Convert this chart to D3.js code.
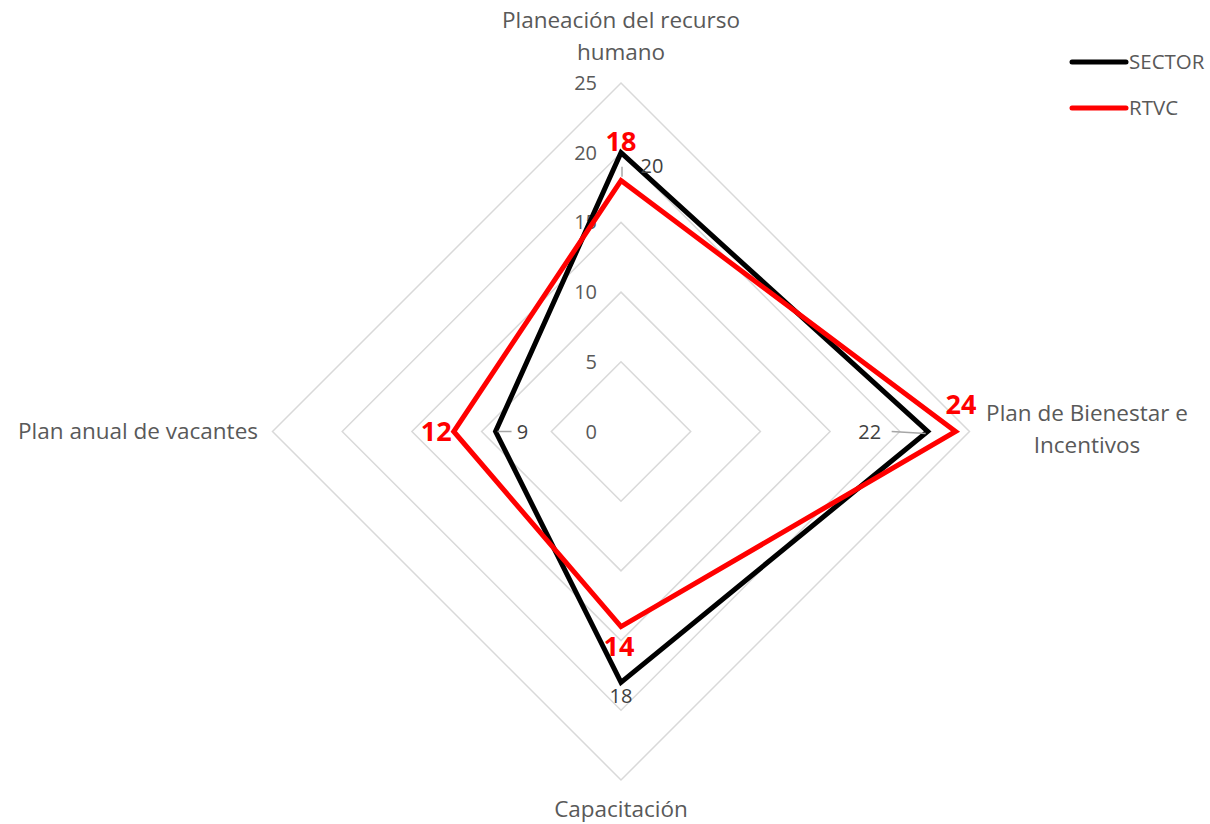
<!DOCTYPE html>
<html>
<head>
<meta charset="utf-8">
<script src="https://cdn.jsdelivr.net/npm/d3@7"></script>
<style>
  body { margin: 0; background: #fff; }
  svg text { font-family: "Open Sans", "Noto Sans", sans-serif; }
</style>
</head>
<body>
<svg id="chart" width="1210" height="824"></svg>
<script>
const categories = ["Planeación del recurso humano", "Plan de Bienestar e Incentivos", "Capacitación", "Plan anual de vacantes"];
const sectorValues = [20, 22, 18, 9];
const rtvcValues = [18, 24, 14, 12];
const tickValues = [0, 5, 10, 15, 20, 25];
const seriesNames = ["SECTOR", "RTVC"];

const width = 1210, height = 824;
const cx = 621, cy = 431.5;
const gray = "#595959";

const svg = d3.select("#chart");
const r = d3.scaleLinear().domain([0, 25]).range([0, 348.5]);
const angle = d3.scalePoint().domain(d3.range(categories.length + 1)).range([0, 2 * Math.PI]);

const g = svg.append("g").attr("transform", `translate(${cx},${cy})`);

const pt = (i, v) => {
  const a = angle(i);
  return [Math.sin(a) * r(v), -Math.cos(a) * r(v)];
};

const radial = d3.lineRadial()
  .angle((d, i) => angle(i))
  .radius(d => r(d))
  .curve(d3.curveLinearClosed);

// grid
g.selectAll(".grid")
  .data(tickValues.filter(t => t > 0))
  .enter().append("path")
  .attr("d", t => radial(categories.map(() => t)))
  .attr("fill", "none")
  .attr("stroke", "#d9d9d9")
  .attr("stroke-width", 1.5);

// tick labels
g.selectAll(".tick")
  .data(tickValues)
  .enter().append("text")
  .attr("x", -24)
  .attr("y", t => -r(t))
  .attr("dy", "0.35em")
  .attr("text-anchor", "end")
  .attr("fill", gray)
  .attr("font-size", 20)
  .text(t => t);

// series
const series = [
  {name: seriesNames[0], values: sectorValues, color: "#000000"},
  {name: seriesNames[1], values: rtvcValues, color: "#ff0000"}
];

g.selectAll(".series")
  .data(series)
  .enter().append("path")
  .attr("d", s => radial(s.values))
  .attr("fill", "none")
  .attr("stroke", s => s.color)
  .attr("stroke-width", 5)
  .attr("stroke-linejoin", "miter");

// SECTOR data labels with leader lines
const sectorLabelOffset = [[31, 13], [-58, 0], [0, 14], [27, 0]];
sectorValues.forEach((v, i) => {
  const [x, y] = pt(i, v);
  const [dx, dy] = sectorLabelOffset[i];
  if (i === 1) {
    g.append("line").attr("x1", x - 36).attr("y1", y).attr("x2", x - 2).attr("y2", y + 2)
      .attr("stroke", "#a6a6a6").attr("stroke-width", 1.5);
  }
  if (i === 3) {
    g.append("line").attr("x1", x + 2).attr("y1", y).attr("x2", x + 16).attr("y2", y)
      .attr("stroke", "#a6a6a6").attr("stroke-width", 1.5);
  }
  if (i === 0) {
    g.append("line").attr("x1", x + 1).attr("y1", y + 14).attr("x2", x + 1).attr("y2", y + 24)
      .attr("stroke", "#a6a6a6").attr("stroke-width", 1.5);
  }
  g.append("text")
    .attr("x", x + dx).attr("y", y + dy)
    .attr("dy", "0.35em")
    .attr("text-anchor", "middle")
    .attr("fill", "#404040")
    .attr("font-size", 20)
    .text(v);
});

// RTVC data labels
const rtvcLabelPos = [[0, -39], [-10, -27], [-2, 20], [-2, 0]];
const rtvcAnchor = ["middle", "start", "middle", "end"];
rtvcValues.forEach((v, i) => {
  const [x, y] = pt(i, v);
  const [dx, dy] = rtvcLabelPos[i];
  g.append("text")
    .attr("x", x + dx).attr("y", y + dy)
    .attr("dy", "0.35em")
    .attr("text-anchor", rtvcAnchor[i])
    .attr("fill", "#ff0000")
    .attr("font-weight", "bold")
    .attr("font-size", 27)
    .text(v);
});

// category labels
const catLines = [["Planeación del recurso", "humano"], ["Plan de Bienestar e", "Incentivos"], ["Capacitación"], ["Plan anual de vacantes"]];
const catPos = [[0, -411], [466, -18], [0, 378], [-363, 0]];
const catAnchor = ["middle", "middle", "middle", "end"];
catLines.forEach((lines, i) => {
  const t = g.append("text")
    .attr("x", catPos[i][0]).attr("y", catPos[i][1])
    .attr("text-anchor", catAnchor[i])
    .attr("fill", gray)
    .attr("font-size", 22.5);
  lines.forEach((l, j) => {
    t.append("tspan").attr("x", catPos[i][0]).attr("dy", j === 0 ? "0.35em" : "1.42em").text(l);
  });
});

// legend
const legend = svg.append("g").attr("transform", "translate(1070,62)");
const item = legend.selectAll(".item").data(series).enter().append("g")
  .attr("transform", (d, i) => `translate(0,${i * 46})`);
item.append("line").attr("x1", 2).attr("x2", 56).attr("y1", 0).attr("y2", 0)
  .attr("stroke", d => d.color).attr("stroke-width", 5).attr("stroke-linecap", "round");
item.append("text").attr("x", 59).attr("dy", "0.35em")
  .attr("fill", gray).attr("font-size", 20.5).text(d => d.name);
</script>
</body>
</html>
